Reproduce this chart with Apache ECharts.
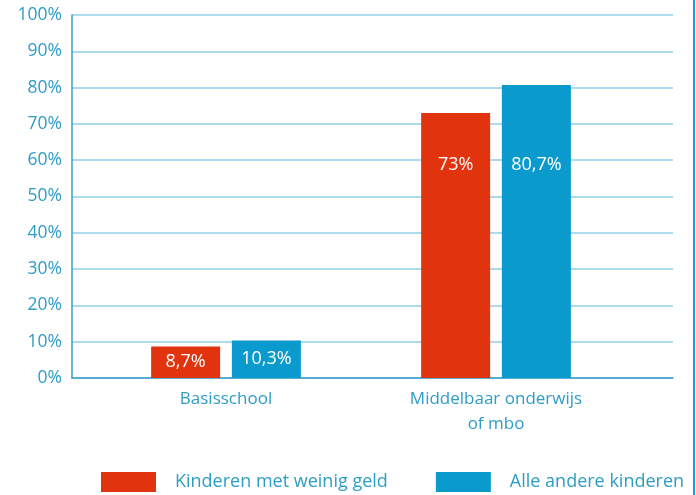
<!DOCTYPE html>
<html>
<head>
<meta charset="utf-8">
<script src="https://cdn.jsdelivr.net/npm/echarts@6/dist/echarts.min.js"></script>
<style>
  html, body { margin: 0; padding: 0; background: #fff; }
  #chart { width: 696px; height: 495px; }
</style>
</head>
<body>
<div id="chart"></div>
<script>
var categories = ['Basisschool', 'Middelbaar onderwijs\nof mbo'];
var weinigGeld = [8.7, 73];
var andereKinderen = [10.3, 80.7];
var yTicks = [0, 10, 20, 30, 40, 50, 60, 70, 80, 90, 100];
var seriesNames = ['Kinderen met weinig geld', 'Alle andere kinderen'];

var red = '#e2330f';
var blue = '#0a9acd';
var textBlue = '#2e9dc6';
var font = 'Open Sans';

function fmtPct(v) {
    return String(v).replace('.', ',') + '%';
}

// tall bars get their label low in the bar, short bars centred
function makeData(values) {
    return values.map(function (v) {
        if (v > 30) {
            return { value: v, label: { position: 'insideBottom', distance: 204 } };
        }
        return { value: v, label: { position: 'inside' } };
    });
}

var chart = echarts.init(document.getElementById('chart'));
var option = {
    animation: false,
    textStyle: { fontFamily: font },
    grid: [
        { left: 72, right: 23, top: 15, bottom: 117 },   // gridlines + y labels
        { left: 91, right: 65, top: 15, bottom: 117 }    // bars
    ],
    legend: {
        top: 467,
        left: 96,
        itemWidth: 55,
        itemHeight: 20,
        itemGap: 48,
        icon: 'rect',
        data: seriesNames,
        textStyle: { color: textBlue, fontSize: 18, fontFamily: font, padding: [0, 0, 0, 14] }
    },
    xAxis: [
        {
            gridIndex: 0, type: 'category', data: [''],
            axisLine: { show: true, lineStyle: { color: '#3a9fcc', width: 1.5 } },
            axisTick: { show: false }, axisLabel: { show: false }
        },
        {
            gridIndex: 1, type: 'category', data: categories,
            axisLine: { show: false }, axisTick: { show: false },
            axisLabel: { color: textBlue, fontSize: 17, lineHeight: 25, margin: 9 }
        }
    ],
    yAxis: [
        {
            gridIndex: 0, type: 'value', min: 0, max: 100, interval: 10,
            axisLine: { show: true, lineStyle: { color: '#3a9fcc', width: 1.5 } },
            axisTick: { show: false },
            splitLine: { lineStyle: { color: '#8fcfe6', width: 1.5 } },
            axisLabel: {
                color: textBlue, fontSize: 17.5, margin: 10,
                formatter: function (v) { return yTicks.indexOf(v) >= 0 ? v + '%' : ''; }
            }
        },
        {
            gridIndex: 1, type: 'value', min: 0, max: 100, show: false
        }
    ],
    series: [
        {
            name: seriesNames[0], type: 'bar', xAxisIndex: 1, yAxisIndex: 1,
            data: makeData(weinigGeld), barWidth: 69, barGap: '17%',
            itemStyle: { color: red },
            label: { show: true, color: '#fff', fontSize: 18, fontFamily: font,
                     formatter: function (p) { return fmtPct(p.value); } }
        },
        {
            name: seriesNames[1], type: 'bar', xAxisIndex: 1, yAxisIndex: 1,
            data: makeData(andereKinderen), barWidth: 69, barGap: '17%',
            itemStyle: { color: blue },
            label: { show: true, color: '#fff', fontSize: 18, fontFamily: font,
                     formatter: function (p) { return fmtPct(p.value); } }
        }
    ],
    graphic: [
        { type: 'rect', right: 1, top: 0, shape: { width: 2, height: 495 }, style: { fill: '#1a9be0' } }
    ]
};
chart.setOption(option);
</script>
</body>
</html>
